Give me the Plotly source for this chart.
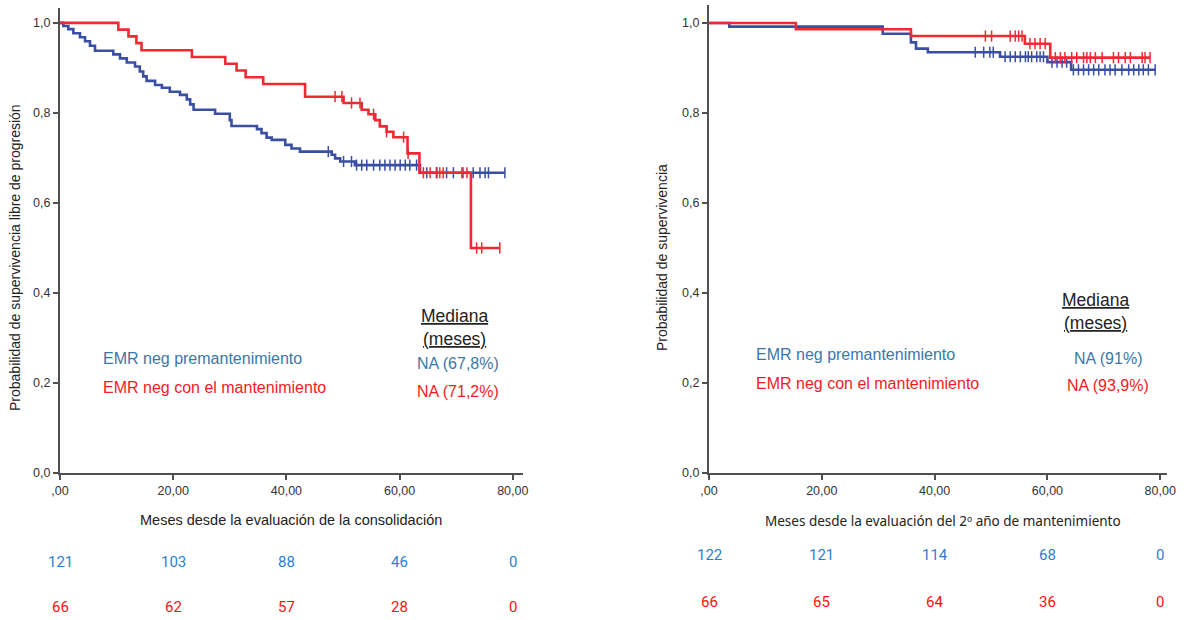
import plotly.graph_objects as go

W, H = 1185, 620

# ---------------- data: left panel (PFS from consolidation) ----------------
left_blue_times = [0.59, 1.47, 2.36, 3.53, 4.42, 5.30, 6.18, 9.42, 10.6, 11.8, 13.25, 14.1, 14.7, 15.3,
                   16.8, 18.0, 19.4, 21.2, 22.4, 23.0, 23.6, 27.4, 30.0, 30.3, 34.8, 35.6, 36.5, 37.4,
                   39.8, 40.9, 42.4, 48.0, 48.6, 49.5, 52.1, 63.6]
left_blue_surv = [0.993, 0.986, 0.977, 0.968, 0.959, 0.949, 0.938, 0.930, 0.921, 0.912, 0.903, 0.892,
                  0.881, 0.871, 0.862, 0.856, 0.847, 0.840, 0.830, 0.819, 0.807, 0.798, 0.784, 0.771,
                  0.764, 0.755, 0.745, 0.740, 0.729, 0.721, 0.714, 0.707, 0.699, 0.692, 0.684, 0.667]
left_blue_cens = [47.4, 50.1, 51.5, 52.4, 53.3, 54.2, 55.4, 56.5, 57.4, 58.3, 59.2, 60.1, 61.0, 61.8,
                  63.0, 64.8, 66.5, 68.3, 69.5, 71.2, 73.0, 74.2, 75.1, 75.7, 78.6]

left_red_times = [10.3, 12.1, 13.5, 14.4, 23.3, 29.2, 31.2, 32.8, 35.9, 43.3, 50.1, 53.3, 54.5, 55.7,
                  56.5, 57.7, 58.9, 61.4, 63.5, 72.6]
left_red_surv = [0.985, 0.970, 0.955, 0.939, 0.924, 0.909, 0.894, 0.879, 0.864, 0.836, 0.822, 0.807,
                 0.797, 0.784, 0.770, 0.758, 0.746, 0.710, 0.667, 0.500]
left_red_cens = [48.6, 49.8, 51.5, 53.0, 55.4, 57.7, 60.7, 61.5, 64.2, 65.4, 66.6, 67.1, 67.7, 71.0,
                 71.9, 73.6, 74.5, 77.7]

left_risk_times = [0, 20, 40, 60, 80]
left_risk_blue = [121, 103, 88, 46, 0]
left_risk_red = [66, 62, 57, 28, 0]

# ---------------- data: right panel (OS from 2nd year of maintenance) ----------------
right_blue_times = [3.6, 30.8, 35.8, 36.7, 38.8, 51.6, 60.0, 64.2]
right_blue_surv = [0.992, 0.976, 0.957, 0.943, 0.935, 0.925, 0.913, 0.896]
right_blue_cens = [47.2, 48.7, 49.8, 50.4, 52.5, 53.4, 54.3, 55.2, 56.1, 56.6, 57.2, 58.1, 58.7, 59.3,
                   60.8, 61.7, 62.6, 63.4, 64.6, 65.5, 66.4, 67.3, 68.2, 69.1, 70.2, 71.1, 72.0, 73.2,
                   74.4, 75.3, 76.2, 77.0, 77.9, 79.1]

right_red_times = [15.4, 35.8, 56.0, 60.5]
right_red_surv = [0.986, 0.971, 0.954, 0.923]
right_red_cens = [49.0, 50.1, 53.4, 54.3, 54.9, 55.5, 56.9, 57.8, 58.7, 59.6, 61.4, 62.3, 63.1, 64.3,
                  65.2, 66.4, 67.0, 67.6, 68.5, 69.7, 71.7, 72.6, 73.8, 74.7, 76.8, 77.3, 78.2]

right_risk_times = [0, 20, 40, 60, 80]
right_risk_blue = [122, 121, 114, 68, 0]
right_risk_red = [66, 65, 64, 36, 0]

legend_names = ["EMR neg premantenimiento", "EMR neg con el mantenimiento"]
left_medians = ["NA (67,8%)", "NA (71,2%)"]
right_medians = ["NA (91%)", "NA (93,9%)"]

y_tickvals = [0, 0.2, 0.4, 0.6, 0.8, 1.0]
y_ticktext = ["0,0", "0,2", "0,4", "0,6", "0,8", "1,0"]
x_tickvals = [0, 20, 40, 60, 80]
x_ticktext = [",00", "20,00", "40,00", "60,00", "80,00"]

# ---------------- styles ----------------
LINE_BLUE = "#3a4fa3"
LINE_RED = "#ee2a33"
TXT_BLUE = "#3b78a8"
TXT_RED = "#f21c24"
RISK_BLUE = "#2c7fd0"
RISK_RED = "#ff1010"
AX = "#505050"
FONT = "Liberation Sans, Arial, sans-serif"


def surv_at(t, times, surv):
    s = 1.0
    for ti, si in zip(times, surv):
        if ti <= t:
            s = si
    return s


def add_km(fig, times, surv, cens, color, xa, ya):
    t_end = max(cens + times)
    xs = [0] + list(times) + [t_end]
    ys = [1.0] + list(surv) + [surv[-1]]
    fig.add_trace(go.Scatter(x=xs, y=ys, mode="lines", line=dict(color=color, width=2.6, shape="hv"),
                             xaxis=xa, yaxis=ya, showlegend=False, hoverinfo="skip", cliponaxis=False))
    fig.add_trace(go.Scatter(x=cens, y=[surv_at(c, times, surv) for c in cens], mode="markers",
                             marker=dict(symbol="line-ns-open", size=8, color=color,
                                         line=dict(color=color, width=1.5)),
                             xaxis=xa, yaxis=ya, showlegend=False, hoverinfo="skip", cliponaxis=False))


fig = go.Figure()
add_km(fig, left_blue_times, left_blue_surv, left_blue_cens, LINE_BLUE, "x", "y")
add_km(fig, left_red_times, left_red_surv, left_red_cens, LINE_RED, "x", "y")
add_km(fig, right_blue_times, right_blue_surv, right_blue_cens, LINE_BLUE, "x2", "y2")
add_km(fig, right_red_times, right_red_surv, right_red_cens, LINE_RED, "x2", "y2")


def px_x(p):
    return p / W


def px_y(p):
    return 1 - p / H


axis_common = dict(showline=True, linecolor=AX, linewidth=2, ticks="outside", ticklen=5,
                   tickcolor=AX, tickwidth=1.5, showgrid=False, zeroline=False, automargin=False,
                   tickfont=dict(family=FONT, size=12.5, color="#333333"))

fig.update_layout(
    width=W, height=H, margin=dict(l=0, r=0, t=0, b=0, autoexpand=False),
    paper_bgcolor="white", plot_bgcolor="white", showlegend=False,
    xaxis=dict(domain=[px_x(60), px_x(523)], range=[0, 81.8], anchor="y",
               tickvals=x_tickvals, ticktext=x_ticktext, **axis_common),
    yaxis=dict(domain=[px_y(473), px_y(8)], range=[0, 1.033], anchor="x",
               tickvals=y_tickvals, ticktext=y_ticktext, **axis_common),
    xaxis2=dict(domain=[px_x(709), px_x(1167)], range=[0, 81.2], anchor="y2",
                tickvals=x_tickvals, ticktext=x_ticktext, **axis_common),
    yaxis2=dict(domain=[px_y(473), px_y(5)], range=[0, 1.04], anchor="x2",
                tickvals=y_tickvals, ticktext=y_ticktext, **axis_common),
)

ann = []


def text(x, y, s, color="#222222", size=13, fam=FONT, angle=0, xanchor="center"):
    ann.append(dict(x=px_x(x), y=px_y(y), xref="paper", yref="paper", text=s, showarrow=False,
                    xanchor=xanchor, yanchor="middle", textangle=angle,
                    font=dict(family=fam, size=size, color=color)))


# axis titles
text(15, 258, "Probabilidad de supervivencia libre de progresión", size=14, angle=-90)
text(662, 258, "Probabilidad de supervivencia", size=14, angle=-90)
text(291, 520, "Meses desde la evaluación de la consolidación", size=14.5)
text(943, 521, "Meses desde la evaluación del 2º año de mantenimiento", size=13.5, fam="Noto Sans, Arial")

# in-plot legends
text(101, 358, legend_names[0], color=TXT_BLUE, size=16, xanchor="left")
text(101, 387, legend_names[1], color=TXT_RED, size=16, xanchor="left")
text(455, 316, "<u>Mediana</u>", size=17.5)
text(455, 339, "<u>(meses)</u>", size=17.5)
text(458, 364, left_medians[0], color=TXT_BLUE, size=16)
text(458, 391, left_medians[1], color=TXT_RED, size=16)

text(754, 354, legend_names[0], color=TXT_BLUE, size=16, xanchor="left")
text(754, 383, legend_names[1], color=TXT_RED, size=16, xanchor="left")
text(1095, 300, "<u>Mediana</u>", size=17.5)
text(1095, 323, "<u>(meses)</u>", size=17.5)
text(1108, 358, right_medians[0], color=TXT_BLUE, size=16)
text(1108, 385, right_medians[1], color=TXT_RED, size=16)

# numbers at risk (placed on each panel's x scale)
RISK_FONT = "Liberation Sans Narrow, Roboto, Arial"
for t, b, r in zip(left_risk_times, left_risk_blue, left_risk_red):
    ann.append(dict(x=t, y=px_y(562), xref="x", yref="paper", text=str(b), showarrow=False,
                    yanchor="middle", font=dict(family=RISK_FONT, size=15, color=RISK_BLUE)))
    ann.append(dict(x=t, y=px_y(607), xref="x", yref="paper", text=str(r), showarrow=False,
                    yanchor="middle", font=dict(family=RISK_FONT, size=15, color=RISK_RED)))
for t, b, r in zip(right_risk_times, right_risk_blue, right_risk_red):
    ann.append(dict(x=t, y=px_y(555), xref="x2", yref="paper", text=str(b), showarrow=False,
                    yanchor="middle", font=dict(family=RISK_FONT, size=15, color=RISK_BLUE)))
    ann.append(dict(x=t, y=px_y(602), xref="x2", yref="paper", text=str(r), showarrow=False,
                    yanchor="middle", font=dict(family=RISK_FONT, size=15, color=RISK_RED)))

fig.update_layout(annotations=ann)
fig.write_html("out.html", config={"displayModeBar": False},
               post_script="document.body.style.margin='0px';document.body.style.overflow='hidden';")
